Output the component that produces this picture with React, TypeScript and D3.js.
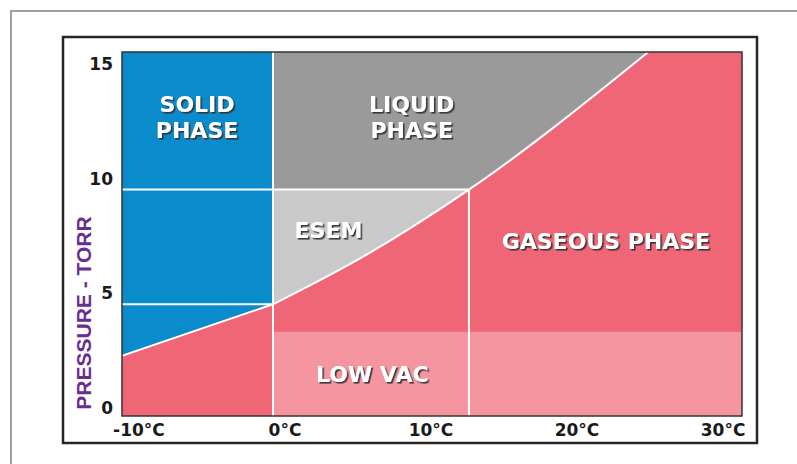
import React from "react";
import * as d3 from "d3";

// ---- data ----
const tempTicks = [-10, 0, 10, 20, 30];
const pressureTicks = [0, 5, 10, 15];
const tempDomain = [-10.34, 32.12];
const pressureDomain = [0.13, 16];
// solid / vapour boundary (°C, Torr)
const sublimationCurve: [number, number][] = [
  [-10.34, 2.75],
  [-5, 3.92],
  [0, 5.0],
];
// liquid / vapour boundary (°C, Torr)
const vaporCurve: [number, number][] = [
  [0, 5.0],
  [5.96, 7.0],
  [13.42, 10.0],
  [25.7, 16.0],
];
const triplePressure = 5;
const esemTop = 10;
const esemRight = 13.42;
const lowVacTop = 3.8;
const regionLabels = [
  { lines: ["SOLID", "PHASE"], t: -5.2, p: 13.4 },
  { lines: ["LIQUID", "PHASE"], t: 9.5, p: 13.4 },
  { lines: ["ESEM"], t: 3.8, p: 7.9 },
  { lines: ["GASEOUS PHASE"], t: 22.8, p: 7.4 },
  { lines: ["LOW VAC"], t: 6.8, p: 1.6 },
];

const COLORS = {
  solid: "#0a8bcb",
  liquid: "#9a9a9a",
  esem: "#c9c9c9",
  gas: "#ef6677",
  lowvac: "#f595a0",
  axisTitle: "#6a2d90",
};

export default function App() {
  const W = 797,
    H = 464;
  const x = d3.scaleLinear().domain(tempDomain).range([122, 742]);
  const y = d3.scaleLinear().domain(pressureDomain).range([416, 52]);
  const [tMin, tMax] = tempDomain;
  const [pMin, pMax] = pressureDomain;

  const curve = d3.curveMonotoneX;
  const line = d3
    .line<[number, number]>()
    .x((d) => x(d[0]))
    .y((d) => y(d[1]))
    .curve(curve);

  const areaTo = (top: number) =>
    d3
      .area<[number, number]>()
      .x((d) => x(d[0]))
      .y0((d) => y(d[1]))
      .y1(() => y(top))
      .curve(curve);

  const solidPath = areaTo(pMax)(sublimationCurve) || "";
  const liquidPath = areaTo(pMax)(vaporCurve) || "";

  const font = "'DejaVu Sans', sans-serif";

  return (
    <svg
      width={W}
      height={H}
      style={{ position: "absolute", left: 0, top: 0, background: "#fff" }}
    >
      <defs>
        <clipPath id="plot">
          <rect x={x(tMin)} y={y(pMax)} width={x(tMax) - x(tMin)} height={y(pMin) - y(pMax)} />
        </clipPath>
        <clipPath id="esem">
          <rect x={x(0)} y={y(esemTop)} width={x(esemRight) - x(0)} height={y(pMin) - y(esemTop)} />
        </clipPath>
        <filter id="shadow" x="-10%" y="-20%" width="130%" height="150%">
          <feDropShadow dx={1.6} dy={1.6} stdDeviation={0.4} floodColor="#333" floodOpacity={0.95} />
        </filter>
      </defs>
      {/* outer frame */}
      <rect x={11} y={11} width={820} height={520} fill="none" stroke="#a99c9a" strokeWidth={2} />
      {/* inner frame */}
      <rect x={63} y={37} width={694} height={406} fill="#fff" stroke="#262626" strokeWidth={2.5} />

      <g clipPath="url(#plot)">
        <rect x={x(tMin)} y={y(pMax)} width={x(tMax) - x(tMin)} height={y(pMin) - y(pMax)} fill={COLORS.gas} />
        <rect x={x(0)} y={y(lowVacTop)} width={x(tMax) - x(0)} height={y(pMin) - y(lowVacTop)} fill={COLORS.lowvac} />
        <path d={solidPath} fill={COLORS.solid} />
        <path d={liquidPath} fill={COLORS.liquid} />
        <path d={liquidPath} fill={COLORS.esem} clipPath="url(#esem)" />
        {/* white boundary lines */}
        <g stroke="#fff" strokeWidth={2} fill="none">
          <line x1={x(tMin)} x2={x(0)} y1={y(triplePressure)} y2={y(triplePressure)} />
          <line x1={x(tMin)} x2={x(esemRight)} y1={y(esemTop)} y2={y(esemTop)} />
          <line x1={x(0)} x2={x(0)} y1={y(pMax)} y2={y(pMin)} />
          <line x1={x(esemRight)} x2={x(esemRight)} y1={y(esemTop)} y2={y(pMin)} />
          <path d={line(sublimationCurve) || ""} />
          <path d={line(vaporCurve) || ""} />
        </g>
        {regionLabels.map((r, i) => (
          <text
            key={i}
            fontFamily={font}
            fontWeight="bold"
            fontSize={22}
            textAnchor="middle"
            fill="#fff"
            filter="url(#shadow)"
          >
            {r.lines.map((ln, j) => (
              <tspan key={j} x={x(r.t)} y={y(r.p) + j * 26.5}>
                {ln}
              </tspan>
            ))}
          </text>
        ))}
      </g>
      <rect x={x(tMin)} y={y(pMax)} width={x(tMax) - x(tMin)} height={y(pMin) - y(pMax)} fill="none" stroke="#333" strokeWidth={1.5} />

      {/* x tick labels */}
      <g fontFamily={font} fontWeight="bold" fontSize={17} fill="#1a1a1a" textAnchor="middle">
        {tempTicks.map((t) => (
          <text key={t} x={x(t) + 12} y={436}>
            {`${t}°C`}
          </text>
        ))}
      </g>
      {/* y tick labels */}
      <g fontFamily={font} fontWeight="bold" fontSize={17} fill="#1a1a1a" textAnchor="end">
        {pressureTicks.map((p) => (
          <text key={p} x={113} y={y(p) - 5}>
            {p}
          </text>
        ))}
      </g>
      <text
        transform={`translate(91,313) rotate(-90)`}
        textAnchor="middle"
        fontFamily="'Liberation Sans', Arial, sans-serif"
        fontWeight="bold"
        fontSize={21}
        fill={COLORS.axisTitle}
      >
        PRESSURE - TORR
      </text>
    </svg>
  );
}
